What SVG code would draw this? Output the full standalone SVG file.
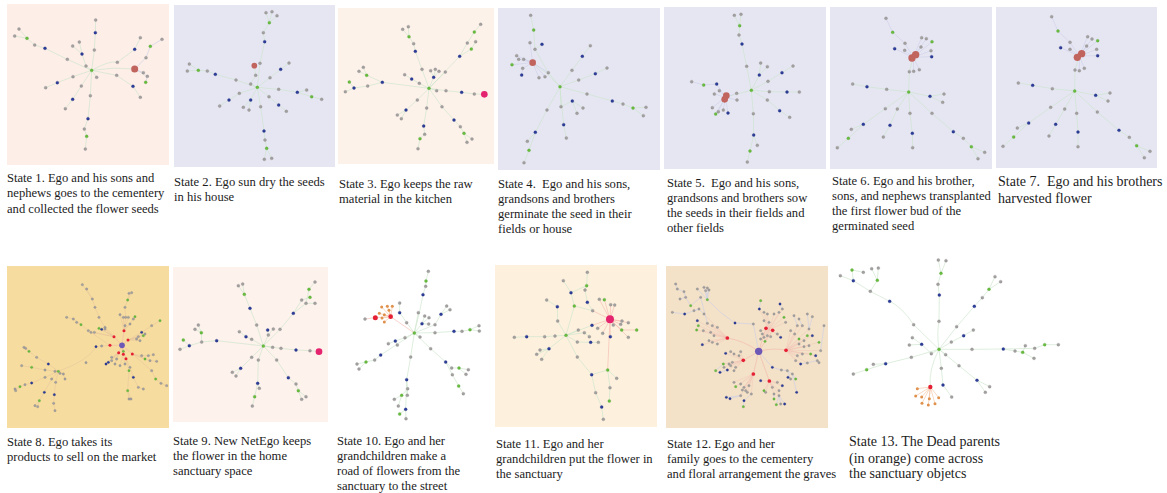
<svg xmlns="http://www.w3.org/2000/svg" width="1167" height="493" viewBox="0 0 1167 493">
<style>
.cap{font-family:"Liberation Serif","Times New Roman",serif;font-size:12.6px;fill:#1c1c1c;white-space:pre}
.cap14{font-family:"Liberation Serif","Times New Roman",serif;font-size:14px;fill:#1c1c1c;white-space:pre}
.e{fill:none;stroke:#cdd0e8;stroke-width:1.9;stroke-linejoin:round}
.eg{fill:none;stroke:#cbe4cb;stroke-width:1.9;stroke-linejoin:round}
.er{fill:none;stroke:#f2b2a8;stroke-width:1.7;stroke-linejoin:round}
.ef{fill:none;stroke:#f2bfb2;stroke-width:1.4;opacity:0.8}
.eo{fill:none;stroke:#f3c09a;stroke-width:1.8}
.g{fill:#a3a0a0;stroke:#858282;stroke-width:0.8}
.b{fill:#2c3d9a;stroke:#1d2a72;stroke-width:0.8}
.n{fill:#68bc3e;stroke:#4f9d30;stroke-width:0.8}
.R{fill:#c2645e}
.M{fill:#e4246e}
.r{fill:#e52034}
.o{fill:#e0914c}
.P{fill:#6e58b6}
</style>
<rect width="1167" height="493" fill="#ffffff"/>

<!-- Panel 1 -->
<g id="state1">
<rect x="7" y="4" width="162" height="161" fill="#fdeee8"/>
<g transform="scale(0.33333)">
<g class="eg">
<path d="M275 211 L283 150 L286 98 L287 60"/>
<path d="M275 211 L202 178 L135 145 L104 135 L81 115 L57 87 M81 115 L44 108"/>
<path d="M275 211 L258 198 L246 162 L238 126 M246 162 L218 138"/>
<path d="M275 211 Q330 180 352 187 L404 148 L421 113"/>
<path d="M275 211 Q340 200 404 207"/>
<path d="M275 211 L350 226 L399 259 L421 292"/>
<path d="M275 211 L219 230 L172 248 L137 263"/>
<path d="M275 211 L244 258 L218 298 L196 326"/>
<path d="M275 211 L290 232"/>
<path d="M275 211 L271 287 L264 356 L253 387 L260 409 L256 447"/>
</g>
<path class="e" d="M404 207 L438 173 L451 139 L486 118 M404 207 L442 229 L437 247 M404 207 L430 218"/>
<circle class="g" cx="287" cy="60" r="4.5"/><circle class="g" cx="283" cy="150" r="4.5"/><circle class="g" cx="202" cy="178" r="4.5"/><circle class="g" cx="104" cy="135" r="4.5"/><circle class="g" cx="57" cy="87" r="4.5"/><circle class="g" cx="44" cy="108" r="4.5"/><circle class="g" cx="258" cy="198" r="4.5"/><circle class="g" cx="238" cy="126" r="4.5"/><circle class="g" cx="218" cy="138" r="4.5"/><circle class="g" cx="352" cy="187" r="4.5"/><circle class="g" cx="421" cy="113" r="4.5"/><circle class="g" cx="486" cy="118" r="4.5"/><circle class="g" cx="438" cy="173" r="4.5"/><circle class="g" cx="442" cy="229" r="4.5"/><circle class="g" cx="430" cy="218" r="4.5"/><circle class="g" cx="350" cy="226" r="4.5"/><circle class="g" cx="421" cy="292" r="4.5"/><circle class="g" cx="219" cy="230" r="4.5"/><circle class="g" cx="137" cy="263" r="4.5"/><circle class="g" cx="244" cy="258" r="4.5"/><circle class="g" cx="196" cy="326" r="4.5"/><circle class="g" cx="290" cy="232" r="4.5"/><circle class="g" cx="271" cy="287" r="4.5"/><circle class="g" cx="253" cy="387" r="4.5"/><circle class="g" cx="256" cy="447" r="4.5"/>
<circle class="b" cx="286" cy="98" r="4.5"/><circle class="b" cx="135" cy="145" r="4.5"/><circle class="b" cx="246" cy="162" r="4.5"/><circle class="b" cx="404" cy="148" r="4.5"/><circle class="b" cx="399" cy="259" r="4.5"/><circle class="b" cx="172" cy="248" r="4.5"/><circle class="b" cx="218" cy="298" r="4.5"/><circle class="b" cx="264" cy="356" r="4.5"/>
<circle class="n" cx="275" cy="211" r="4.5"/><circle class="n" cx="81" cy="115" r="4.5"/><circle class="n" cx="451" cy="139" r="4.5"/><circle class="n" cx="437" cy="247" r="4.5"/><circle class="n" cx="260" cy="409" r="4.5"/>
<circle class="R" cx="404" cy="207" r="10.5"/>
</g>
<text class="cap" x="7" y="181.5">State 1. Ego and his sons and</text>
<text class="cap" x="7" y="197">nephews goes to the cementery</text>
<text class="cap" x="7" y="212.5">and collected the flower seeds</text>
</g>

<!-- Panel 2 -->
<g id="state2">
<rect x="174" y="5" width="161" height="162" fill="#e6e6f3"/>
<g transform="scale(0.33333)">
<g class="eg">
<path d="M772 262 L780 190 L794 125 L790 98 L808 68 L798 38 M808 68 L816 35 M808 68 L831 47"/>
<path d="M772 262 L752 252 L767 226 L763 197"/>
<path d="M772 262 L708 240 L646 223 L622 213 L595 211 L568 192 M595 211 L562 213"/>
<path d="M772 262 L810 233 L842 208 L867 189"/>
<path d="M772 262 L836 268 L892 277 L920 270 M892 277 L935 290 L965 298"/>
<path d="M772 262 L807 290 L836 315 L859 334"/>
<path d="M772 262 L752 300 L730 322 M752 300 L747 330"/>
<path d="M772 262 L718 280 L687 300 L659 318"/>
<path d="M772 262 L782 320 L792 393 L795 420 L800 445 L793 478 M800 445 L815 475"/>
</g>
<circle class="g" cx="780" cy="190" r="4.5"/><circle class="g" cx="790" cy="98" r="4.5"/><circle class="g" cx="798" cy="38" r="4.5"/><circle class="g" cx="816" cy="35" r="4.5"/><circle class="g" cx="831" cy="47" r="4.5"/><circle class="g" cx="767" cy="226" r="4.5"/><circle class="g" cx="752" cy="252" r="4.5"/><circle class="g" cx="708" cy="240" r="4.5"/><circle class="g" cx="622" cy="213" r="4.5"/><circle class="g" cx="568" cy="192" r="4.5"/><circle class="g" cx="562" cy="213" r="4.5"/><circle class="g" cx="810" cy="233" r="4.5"/><circle class="g" cx="867" cy="189" r="4.5"/><circle class="g" cx="836" cy="268" r="4.5"/><circle class="g" cx="920" cy="270" r="4.5"/><circle class="g" cx="965" cy="298" r="4.5"/><circle class="g" cx="807" cy="290" r="4.5"/><circle class="g" cx="859" cy="334" r="4.5"/><circle class="g" cx="730" cy="322" r="4.5"/><circle class="g" cx="747" cy="330" r="4.5"/><circle class="g" cx="718" cy="280" r="4.5"/><circle class="g" cx="659" cy="318" r="4.5"/><circle class="g" cx="782" cy="320" r="4.5"/><circle class="g" cx="795" cy="420" r="4.5"/><circle class="g" cx="793" cy="478" r="4.5"/><circle class="g" cx="815" cy="475" r="4.5"/>
<circle class="b" cx="794" cy="125" r="4.5"/><circle class="b" cx="646" cy="223" r="4.5"/><circle class="b" cx="842" cy="208" r="4.5"/><circle class="b" cx="892" cy="277" r="4.5"/><circle class="b" cx="836" cy="315" r="4.5"/><circle class="b" cx="752" cy="300" r="4.5"/><circle class="b" cx="687" cy="300" r="4.5"/><circle class="b" cx="792" cy="393" r="4.5"/>
<circle class="n" cx="772" cy="262" r="4.5"/><circle class="n" cx="808" cy="68" r="4.5"/><circle class="n" cx="595" cy="211" r="4.5"/><circle class="n" cx="935" cy="290" r="4.5"/><circle class="n" cx="800" cy="445" r="4.5"/>
<circle class="R" cx="763" cy="197" r="8.5"/>
</g>
<text class="cap" x="174" y="185.5">State 2. Ego sun dry the seeds</text>
<text class="cap" x="174" y="200.5">in his house</text>
</g>

<!-- Panel 3 -->
<g id="state3">
<rect x="338" y="8" width="156" height="156" fill="#fdf2ea"/>
<g transform="translate(330,0) scale(0.33333)">
<g class="eg">
<path d="M297 265 L276 208 L256 154 L251 131 L237 110 L218 88 M237 110 L235 80"/>
<path d="M297 265 L311 232 L302 212 M311 232 L316 208 M311 232 L327 214 M297 265 L346 216"/>
<path d="M297 265 L389 169 L412 129 L433 96 L452 73 M389 169 L424 147 L437 125"/>
<path d="M297 265 L268 250 L245 237 L224 224"/>
<path d="M297 265 L157 247 L113 258 L72 264 L46 275 M72 264 L58 246 M157 247 L110 226 L87 214 M110 226 L100 202"/>
<path d="M297 265 L348 272 L395 277 L433 282 L463 283"/>
<path d="M297 265 L320 272"/>
<path d="M297 265 L262 300 L228 330 L202 345 M228 330 L214 356"/>
<path d="M297 265 L290 324 L281 378 L284 403 L270 416 L264 446"/>
<path d="M297 265 L336 320 L372 360 L391 380 L402 400 L411 427 M402 400 L426 417"/>
</g>
<circle class="g" cx="276" cy="208" r="4.5"/><circle class="g" cx="251" cy="131" r="4.5"/><circle class="g" cx="218" cy="88" r="4.5"/><circle class="g" cx="235" cy="80" r="4.5"/><circle class="g" cx="302" cy="212" r="4.5"/><circle class="g" cx="316" cy="208" r="4.5"/><circle class="g" cx="327" cy="214" r="4.5"/><circle class="g" cx="346" cy="216" r="4.5"/><circle class="g" cx="412" cy="129" r="4.5"/><circle class="g" cx="452" cy="73" r="4.5"/><circle class="g" cx="437" cy="125" r="4.5"/><circle class="g" cx="268" cy="250" r="4.5"/><circle class="g" cx="224" cy="224" r="4.5"/><circle class="g" cx="113" cy="258" r="4.5"/><circle class="g" cx="46" cy="275" r="4.5"/><circle class="g" cx="87" cy="214" r="4.5"/><circle class="g" cx="100" cy="202" r="4.5"/><circle class="g" cx="348" cy="272" r="4.5"/><circle class="g" cx="433" cy="282" r="4.5"/><circle class="g" cx="320" cy="272" r="4.5"/><circle class="g" cx="262" cy="300" r="4.5"/><circle class="g" cx="202" cy="345" r="4.5"/><circle class="g" cx="214" cy="356" r="4.5"/><circle class="g" cx="290" cy="324" r="4.5"/><circle class="g" cx="284" cy="403" r="4.5"/><circle class="g" cx="264" cy="446" r="4.5"/><circle class="g" cx="336" cy="320" r="4.5"/><circle class="g" cx="391" cy="380" r="4.5"/><circle class="g" cx="411" cy="427" r="4.5"/><circle class="g" cx="426" cy="417" r="4.5"/>
<circle class="b" cx="256" cy="154" r="4.5"/><circle class="b" cx="311" cy="232" r="4.5"/><circle class="b" cx="389" cy="169" r="4.5"/><circle class="b" cx="245" cy="237" r="4.5"/><circle class="b" cx="157" cy="247" r="4.5"/><circle class="b" cx="72" cy="264" r="4.5"/><circle class="b" cx="395" cy="277" r="4.5"/><circle class="b" cx="228" cy="330" r="4.5"/><circle class="b" cx="281" cy="378" r="4.5"/><circle class="b" cx="372" cy="360" r="4.5"/>
<circle class="n" cx="297" cy="265" r="4.5"/><circle class="n" cx="237" cy="110" r="4.5"/><circle class="n" cx="433" cy="96" r="4.5"/><circle class="n" cx="424" cy="147" r="4.5"/><circle class="n" cx="58" cy="246" r="4.5"/><circle class="n" cx="110" cy="226" r="4.5"/><circle class="n" cx="270" cy="416" r="4.5"/><circle class="n" cx="402" cy="400" r="4.5"/>
<circle class="M" cx="463" cy="283" r="10"/>
</g>
<text class="cap" x="339" y="187.5">State 3. Ego keeps the raw</text>
<text class="cap" x="339" y="202.5">material in the kitchen</text>
</g>

<!-- Panel 4 -->
<g id="state4">
<rect x="498" y="8" width="162" height="162" fill="#e6e6f3"/>
<g transform="translate(330,0) scale(0.33333)">
<g class="eg">
<path d="M690 260 L655 218 L615 148 L611 90 L602 46 M615 148 L636 133"/>
<path d="M690 260 Q650 215 608 188"/>
<path d="M690 260 L726 211 L757 169 L781 137"/>
<path d="M690 260 L746 240 L796 221 L831 204"/>
<path d="M690 260 L771 282 L847 303 L879 312 L909 324 L948 322 M909 324 L940 347"/>
<path d="M690 260 L693 320 L727 303 L759 324 M727 303 L741 340"/>
<path d="M690 260 L651 330 L616 397 L592 424 M616 397 L597 451 L582 488"/>
<path d="M690 260 L701 374 L709 414"/>
</g>
<path class="e" d="M608 188 L560 167 M608 188 L566 178 M608 188 L581 178 M608 188 L546 194 M608 188 L578 205 L575 225 M608 188 L627 233 M608 188 L645 230 M608 188 L600 128 M608 188 L655 218"/>
<circle class="g" cx="655" cy="218" r="4.5"/><circle class="g" cx="615" cy="148" r="4.5"/><circle class="g" cx="602" cy="46" r="4.5"/><circle class="g" cx="600" cy="128" r="4.5"/><circle class="g" cx="560" cy="167" r="4.5"/><circle class="g" cx="566" cy="178" r="4.5"/><circle class="g" cx="581" cy="178" r="4.5"/><circle class="g" cx="578" cy="205" r="4.5"/><circle class="g" cx="627" cy="233" r="4.5"/><circle class="g" cx="645" cy="230" r="4.5"/><circle class="g" cx="726" cy="211" r="4.5"/><circle class="g" cx="781" cy="137" r="4.5"/><circle class="g" cx="746" cy="240" r="4.5"/><circle class="g" cx="831" cy="204" r="4.5"/><circle class="g" cx="771" cy="282" r="4.5"/><circle class="g" cx="879" cy="312" r="4.5"/><circle class="g" cx="948" cy="322" r="4.5"/><circle class="g" cx="940" cy="347" r="4.5"/><circle class="g" cx="693" cy="320" r="4.5"/><circle class="g" cx="759" cy="324" r="4.5"/><circle class="g" cx="741" cy="340" r="4.5"/><circle class="g" cx="651" cy="330" r="4.5"/><circle class="g" cx="592" cy="424" r="4.5"/><circle class="g" cx="582" cy="488" r="4.5"/><circle class="g" cx="709" cy="414" r="4.5"/>
<circle class="b" cx="636" cy="133" r="4.5"/><circle class="b" cx="575" cy="225" r="4.5"/><circle class="b" cx="757" cy="169" r="4.5"/><circle class="b" cx="796" cy="221" r="4.5"/><circle class="b" cx="847" cy="303" r="4.5"/><circle class="b" cx="727" cy="303" r="4.5"/><circle class="b" cx="616" cy="397" r="4.5"/><circle class="b" cx="701" cy="374" r="4.5"/>
<circle class="n" cx="690" cy="260" r="4.5"/><circle class="n" cx="611" cy="90" r="4.5"/><circle class="n" cx="546" cy="194" r="4.5"/><circle class="n" cx="909" cy="324" r="4.5"/><circle class="n" cx="597" cy="451" r="4.5"/>
<circle class="R" cx="608" cy="188" r="10"/>
</g>
<text class="cap" x="498" y="187.5">State 4.  Ego and his sons,</text>
<text class="cap" x="498" y="202.5">grandsons and brothers</text>
<text class="cap" x="498" y="217.5">germinate the seed in their</text>
<text class="cap" x="498" y="232.5">fields or house</text>
</g>

<!-- Panel 5 -->
<g id="state5">
<rect x="664" y="7" width="162" height="162" fill="#e6e6f3"/>
<g transform="translate(660,0) scale(0.33333)">
<g class="eg">
<path d="M274 271 L260 199 L246 132 L237 105 L239 77 L223 46 M239 77 L243 43"/>
<path d="M274 271 L298 225 L302 189 M298 225 L322 200"/>
<path d="M274 271 L324 244 L366 218 L399 198"/>
<path d="M274 271 L328 275 L381 276 L418 276"/>
<path d="M274 271 L322 300 L359 332 L389 352"/>
<path d="M274 271 Q230 282 196 292"/>
<path d="M274 271 L280 341 L281 405 L292 436 M281 405 L270 453 L262 486"/>
</g>
<path class="e" d="M196 292 L170 252 L131 255 L95 245 M196 292 L178 272 M196 292 L163 282 M196 292 L157 323 M196 292 L175 335 M196 292 L167 342 M196 292 L204 339 M196 292 L190 330 M196 292 L230 280 M196 292 L231 300"/>
<circle class="g" cx="260" cy="199" r="4.5"/><circle class="g" cx="237" cy="105" r="4.5"/><circle class="g" cx="223" cy="46" r="4.5"/><circle class="g" cx="243" cy="43" r="4.5"/><circle class="g" cx="302" cy="189" r="4.5"/><circle class="g" cx="322" cy="200" r="4.5"/><circle class="g" cx="324" cy="244" r="4.5"/><circle class="g" cx="399" cy="198" r="4.5"/><circle class="g" cx="328" cy="275" r="4.5"/><circle class="g" cx="418" cy="276" r="4.5"/><circle class="g" cx="322" cy="300" r="4.5"/><circle class="g" cx="389" cy="352" r="4.5"/><circle class="g" cx="95" cy="245" r="4.5"/><circle class="g" cx="178" cy="272" r="4.5"/><circle class="g" cx="163" cy="282" r="4.5"/><circle class="g" cx="157" cy="323" r="4.5"/><circle class="g" cx="175" cy="335" r="4.5"/><circle class="g" cx="190" cy="330" r="4.5"/><circle class="g" cx="230" cy="280" r="4.5"/><circle class="g" cx="231" cy="300" r="4.5"/><circle class="g" cx="280" cy="341" r="4.5"/><circle class="g" cx="292" cy="436" r="4.5"/><circle class="g" cx="262" cy="486" r="4.5"/>
<circle class="b" cx="246" cy="132" r="4.5"/><circle class="b" cx="298" cy="225" r="4.5"/><circle class="b" cx="366" cy="218" r="4.5"/><circle class="b" cx="381" cy="276" r="4.5"/><circle class="b" cx="359" cy="332" r="4.5"/><circle class="b" cx="170" cy="252" r="4.5"/><circle class="b" cx="204" cy="339" r="4.5"/><circle class="b" cx="281" cy="405" r="4.5"/>
<circle class="n" cx="274" cy="271" r="4.5"/><circle class="n" cx="239" cy="77" r="4.5"/><circle class="n" cx="131" cy="255" r="4.5"/><circle class="n" cx="167" cy="342" r="4.5"/><circle class="n" cx="270" cy="453" r="4.5"/>
<circle class="R" cx="194" cy="298" r="10"/><circle class="R" cx="199" cy="287" r="10"/>
</g>
<text class="cap" x="667" y="187">State 5.  Ego and his sons,</text>
<text class="cap" x="667" y="201.5">grandsons and brothers sow</text>
<text class="cap" x="667" y="216.5">the seeds in their fields and</text>
<text class="cap" x="667" y="231.5">other fields</text>
</g>

<!-- Panel 6 -->
<g id="state6">
<rect x="830" y="7" width="162" height="162" fill="#e6e6f3"/>
<g transform="translate(660,0) scale(0.33333)">
<g class="eg">
<path d="M746 276 L748 215 L760 172"/>
<path d="M746 276 L680 268 L621 260 L578 252"/>
<path d="M746 276 L810 289 L852 282 M810 289 L848 307"/>
<path d="M746 276 L676 326 L610 373 L574 388 M610 373 L565 415 L532 443"/>
<path d="M746 276 L712 327 L690 376 L670 411"/>
<path d="M746 276 L750 340 L757 400 L758 443"/>
<path d="M746 276 L816 340 L880 395 L910 415 L934 440 L954 476 M934 440 L974 457"/>
</g>
<path class="e" d="M760 172 L735 130 L698 97 L678 55 M760 172 L704 146 M760 172 L734 151 M760 172 L785 113 M760 172 L799 116 M760 172 L816 125 M760 172 L813 152 M760 172 L815 170 M760 172 L783 141 M760 172 L778 209 M760 172 L761 214"/>
<circle class="g" cx="748" cy="215" r="4.5"/><circle class="g" cx="735" cy="130" r="4.5"/><circle class="g" cx="678" cy="55" r="4.5"/><circle class="g" cx="734" cy="151" r="4.5"/><circle class="g" cx="785" cy="113" r="4.5"/><circle class="g" cx="799" cy="116" r="4.5"/><circle class="g" cx="813" cy="152" r="4.5"/><circle class="g" cx="783" cy="141" r="4.5"/><circle class="g" cx="778" cy="209" r="4.5"/><circle class="g" cx="761" cy="214" r="4.5"/><circle class="g" cx="680" cy="268" r="4.5"/><circle class="g" cx="578" cy="252" r="4.5"/><circle class="g" cx="852" cy="282" r="4.5"/><circle class="g" cx="848" cy="307" r="4.5"/><circle class="g" cx="676" cy="326" r="4.5"/><circle class="g" cx="574" cy="388" r="4.5"/><circle class="g" cx="532" cy="443" r="4.5"/><circle class="g" cx="712" cy="327" r="4.5"/><circle class="g" cx="670" cy="411" r="4.5"/><circle class="g" cx="750" cy="340" r="4.5"/><circle class="g" cx="758" cy="443" r="4.5"/><circle class="g" cx="816" cy="340" r="4.5"/><circle class="g" cx="910" cy="415" r="4.5"/><circle class="g" cx="954" cy="476" r="4.5"/><circle class="g" cx="974" cy="457" r="4.5"/>
<circle class="b" cx="704" cy="146" r="4.5"/><circle class="b" cx="815" cy="170" r="4.5"/><circle class="b" cx="621" cy="260" r="4.5"/><circle class="b" cx="810" cy="289" r="4.5"/><circle class="b" cx="610" cy="373" r="4.5"/><circle class="b" cx="690" cy="376" r="4.5"/><circle class="b" cx="757" cy="400" r="4.5"/><circle class="b" cx="880" cy="395" r="4.5"/>
<circle class="n" cx="746" cy="276" r="4.5"/><circle class="n" cx="698" cy="97" r="4.5"/><circle class="n" cx="816" cy="125" r="4.5"/><circle class="n" cx="565" cy="415" r="4.5"/><circle class="n" cx="934" cy="440" r="4.5"/>
<circle class="R" cx="767" cy="164" r="11"/><circle class="R" cx="756" cy="174" r="11"/>
</g>
<text class="cap" x="832" y="184.5">State 6. Ego and his brother,</text>
<text class="cap" x="832" y="199.5">sons, and nephews transplanted</text>
<text class="cap" x="832" y="214.5">the first flower bud of the</text>
<text class="cap" x="832" y="229.5">germinated seed</text>
</g>

<!-- Panel 7 -->
<g id="state7">
<rect x="996" y="7" width="161" height="161" fill="#e6e6f3"/>
<g transform="translate(660,0) scale(0.33333)">
<g class="eg">
<path d="M1244 273 L1245 210 L1258 168"/>
<path d="M1244 273 L1177 266 L1118 256 L1075 249"/>
<path d="M1244 273 L1307 286 L1350 279 M1307 286 L1344 303"/>
<path d="M1244 273 L1172 322 L1106 369 L1072 384 M1106 369 L1061 411 L1029 439"/>
<path d="M1244 273 L1214 327 L1187 373 L1167 408"/>
<path d="M1244 273 L1250 340 L1254 396 L1254 440"/>
<path d="M1244 273 L1312 336 L1377 391 L1408 412 L1430 437 L1453 473 M1430 437 L1470 454"/>
</g>
<path class="e" d="M1258 168 L1230 127 L1194 93 L1175 50 M1258 168 L1202 143 M1258 168 L1230 148 M1258 168 L1283 110 M1258 168 L1296 117 M1258 168 L1313 122 M1258 168 L1310 148 M1258 168 L1313 167 M1258 168 L1280 138 M1258 168 L1258 212 M1258 168 L1273 205"/>
<circle class="g" cx="1245" cy="210" r="4.5"/><circle class="g" cx="1230" cy="127" r="4.5"/><circle class="g" cx="1175" cy="50" r="4.5"/><circle class="g" cx="1230" cy="148" r="4.5"/><circle class="g" cx="1283" cy="110" r="4.5"/><circle class="g" cx="1296" cy="117" r="4.5"/><circle class="g" cx="1310" cy="148" r="4.5"/><circle class="g" cx="1280" cy="138" r="4.5"/><circle class="g" cx="1258" cy="212" r="4.5"/><circle class="g" cx="1273" cy="205" r="4.5"/><circle class="g" cx="1177" cy="266" r="4.5"/><circle class="g" cx="1075" cy="249" r="4.5"/><circle class="g" cx="1350" cy="279" r="4.5"/><circle class="g" cx="1344" cy="303" r="4.5"/><circle class="g" cx="1172" cy="322" r="4.5"/><circle class="g" cx="1072" cy="384" r="4.5"/><circle class="g" cx="1029" cy="439" r="4.5"/><circle class="g" cx="1214" cy="327" r="4.5"/><circle class="g" cx="1167" cy="408" r="4.5"/><circle class="g" cx="1250" cy="340" r="4.5"/><circle class="g" cx="1254" cy="440" r="4.5"/><circle class="g" cx="1312" cy="336" r="4.5"/><circle class="g" cx="1408" cy="412" r="4.5"/><circle class="g" cx="1453" cy="473" r="4.5"/><circle class="g" cx="1470" cy="454" r="4.5"/>
<circle class="b" cx="1202" cy="143" r="4.5"/><circle class="b" cx="1313" cy="167" r="4.5"/><circle class="b" cx="1118" cy="256" r="4.5"/><circle class="b" cx="1307" cy="286" r="4.5"/><circle class="b" cx="1106" cy="369" r="4.5"/><circle class="b" cx="1187" cy="373" r="4.5"/><circle class="b" cx="1254" cy="396" r="4.5"/><circle class="b" cx="1377" cy="391" r="4.5"/>
<circle class="n" cx="1244" cy="273" r="4.5"/><circle class="n" cx="1194" cy="93" r="4.5"/><circle class="n" cx="1313" cy="122" r="4.5"/><circle class="n" cx="1061" cy="411" r="4.5"/><circle class="n" cx="1430" cy="437" r="4.5"/>
<circle class="R" cx="1265" cy="161" r="11"/><circle class="R" cx="1252" cy="172" r="11"/>
</g>
<text class="cap14" x="998" y="186">State 7.  Ego and his brothers</text>
<text class="cap14" x="998" y="203">harvested flower</text>
</g>

<!-- Panel 8 -->
<g id="state8">
<rect x="7" y="266" width="162" height="162" fill="#f6dc9f"/>
<g transform="translate(5,264) scale(0.33333)">
<path class="er" d="M351 244 L327 218 M351 244 L357 200 M351 244 L369 228 M351 244 L315 244 M351 244 L341 266 M351 244 L355 271 M351 244 L363 284 M351 244 L382 270"/>
<g class="er" style="stroke:#e6c49c;stroke-width:1.6">
<path d="M357 200 L362 160 L360 130 L368 108 L372 88 M368 108 L380 86 M357 200 L345 152 M357 200 L355 160 M357 200 L370 160 M357 200 L385 165 L390 158 M357 200 L375 180 M357 200 L360 185"/>
<path d="M327 218 L300 190 L282 160 L270 130 L262 105 L245 75 M262 105 L232 62 M327 218 L300 195 M327 218 L290 196 M327 218 L282 193 M327 218 L268 205 M327 218 L258 205"/>
<path d="M315 244 L290 246 L273 248 Q250 290 160 322 M315 244 L250 200 L228 182 L205 165 L185 160 M228 182 L215 175"/>
<path d="M369 228 L410 205 L440 185 L465 170 M369 228 L415 215 M369 228 L400 218 M369 228 L395 225 M369 228 L405 230 M369 228 L420 210"/>
<path d="M382 270 L410 275 L430 275 L445 272 M382 270 L420 285 M382 270 L435 290 L455 292 M382 270 L440 320 L452 345 L468 358 L485 365"/>
<path d="M363 284 L375 310 L385 340 L400 370 L415 375 M363 284 L372 320 L368 380 L372 405 M368 380 L378 405"/>
<path d="M341 266 L320 280 M341 266 L310 295 M341 266 L303 300 M341 266 L330 300 M341 266 L320 290 M341 266 L335 285 M355 271 L360 300 M355 271 L345 305 M355 271 L355 262"/>
<path d="M160 322 L130 300 L95 280 L72 262 L57 250 M72 262 L62 253 M160 322 L120 318 L80 310 L50 305 M160 322 L120 340 L80 357 L60 362 L45 368 L30 375 M45 368 L32 380 M160 322 L140 345 L118 385 L103 410 L90 425 M103 410 L98 428 M160 322 L152 355 L148 392 L146 418 L150 440 M160 322 L175 330 L180 345 M160 322 L150 322 M160 322 L165 328"/>
</g>
<g>
<circle class="g" cx="362" cy="160" r="3.6"/><circle class="g" cx="360" cy="130" r="3.6"/><circle class="g" cx="372" cy="88" r="3.6"/><circle class="g" cx="380" cy="86" r="3.6"/><circle class="g" cx="345" cy="152" r="3.6"/><circle class="g" cx="355" cy="160" r="3.6"/><circle class="g" cx="370" cy="160" r="3.6"/><circle class="g" cx="385" cy="165" r="3.6"/><circle class="g" cx="375" cy="180" r="3.6"/><circle class="g" cx="360" cy="185" r="3.6"/><circle class="g" cx="300" cy="190" r="3.6"/><circle class="g" cx="282" cy="160" r="3.6"/><circle class="g" cx="270" cy="130" r="3.6"/><circle class="g" cx="262" cy="105" r="3.6"/><circle class="g" cx="245" cy="75" r="3.6"/><circle class="g" cx="232" cy="62" r="3.6"/><circle class="g" cx="300" cy="195" r="3.6"/><circle class="g" cx="268" cy="205" r="3.6"/><circle class="g" cx="258" cy="205" r="3.6"/><circle class="g" cx="290" cy="246" r="3.6"/><circle class="g" cx="243" cy="296" r="3.6"/><circle class="g" cx="250" cy="200" r="3.6"/><circle class="g" cx="205" cy="165" r="3.6"/><circle class="g" cx="185" cy="160" r="3.6"/><circle class="g" cx="215" cy="175" r="3.6"/><circle class="g" cx="440" cy="185" r="3.6"/><circle class="g" cx="400" cy="218" r="3.6"/><circle class="g" cx="395" cy="225" r="3.6"/><circle class="g" cx="405" cy="230" r="3.6"/><circle class="g" cx="420" cy="210" r="3.6"/><circle class="g" cx="410" cy="275" r="3.6"/><circle class="g" cx="430" cy="275" r="3.6"/><circle class="g" cx="445" cy="272" r="3.6"/><circle class="g" cx="435" cy="290" r="3.6"/><circle class="g" cx="455" cy="292" r="3.6"/><circle class="g" cx="375" cy="310" r="3.6"/><circle class="g" cx="400" cy="370" r="3.6"/><circle class="g" cx="415" cy="375" r="3.6"/><circle class="g" cx="372" cy="405" r="3.6"/><circle class="g" cx="378" cy="405" r="3.6"/><circle class="g" cx="440" cy="320" r="3.6"/><circle class="g" cx="468" cy="358" r="3.6"/><circle class="g" cx="485" cy="365" r="3.6"/><circle class="g" cx="320" cy="280" r="3.6"/><circle class="g" cx="330" cy="300" r="3.6"/><circle class="g" cx="320" cy="290" r="3.6"/><circle class="g" cx="335" cy="285" r="3.6"/><circle class="g" cx="360" cy="300" r="3.6"/><circle class="g" cx="345" cy="305" r="3.6"/><circle class="g" cx="95" cy="280" r="3.6"/><circle class="g" cx="57" cy="250" r="3.6"/><circle class="g" cx="62" cy="253" r="3.6"/><circle class="g" cx="120" cy="318" r="3.6"/><circle class="g" cx="50" cy="305" r="3.6"/><circle class="g" cx="120" cy="340" r="3.6"/><circle class="g" cx="60" cy="362" r="3.6"/><circle class="g" cx="30" cy="375" r="3.6"/><circle class="g" cx="32" cy="380" r="3.6"/><circle class="g" cx="140" cy="345" r="3.6"/><circle class="g" cx="90" cy="425" r="3.6"/><circle class="g" cx="98" cy="428" r="3.6"/><circle class="g" cx="152" cy="355" r="3.6"/><circle class="g" cx="146" cy="418" r="3.6"/><circle class="g" cx="150" cy="440" r="3.6"/><circle class="g" cx="175" cy="330" r="3.6"/><circle class="g" cx="180" cy="345" r="3.6"/><circle class="g" cx="150" cy="322" r="3.6"/><circle class="g" cx="165" cy="328" r="3.6"/>
<circle class="b" cx="290" cy="196" r="3.6"/><circle class="b" cx="273" cy="248" r="3.6"/><circle class="b" cx="410" cy="205" r="3.6"/><circle class="b" cx="385" cy="340" r="3.6"/><circle class="b" cx="310" cy="295" r="3.6"/><circle class="b" cx="303" cy="300" r="3.6"/><circle class="b" cx="130" cy="300" r="3.6"/><circle class="b" cx="80" cy="357" r="3.6"/><circle class="b" cx="118" cy="385" r="3.6"/><circle class="b" cx="148" cy="392" r="3.6"/>
<circle class="n" cx="368" cy="108" r="3.6"/><circle class="n" cx="390" cy="158" r="3.6"/><circle class="n" cx="282" cy="193" r="3.6"/><circle class="n" cx="228" cy="182" r="3.6"/><circle class="n" cx="465" cy="170" r="3.6"/><circle class="n" cx="415" cy="215" r="3.6"/><circle class="n" cx="420" cy="285" r="3.6"/><circle class="n" cx="372" cy="320" r="3.6"/><circle class="n" cx="368" cy="380" r="3.6"/><circle class="n" cx="452" cy="345" r="3.6"/><circle class="n" cx="72" cy="262" r="3.6"/><circle class="n" cx="80" cy="310" r="3.6"/><circle class="n" cx="45" cy="368" r="3.6"/><circle class="n" cx="103" cy="410" r="3.6"/><circle class="n" cx="160" cy="322" r="3.6"/><circle class="n" cx="355" cy="262" r="3.6"/>
<circle class="r" cx="327" cy="218" r="4.5"/><circle class="r" cx="357" cy="200" r="4.5"/><circle class="r" cx="369" cy="228" r="4.5"/><circle class="r" cx="315" cy="244" r="4.5"/><circle class="r" cx="341" cy="266" r="4.5"/><circle class="r" cx="355" cy="271" r="4.5"/><circle class="r" cx="363" cy="284" r="4.5"/><circle class="r" cx="382" cy="270" r="4.5"/>
<circle class="P" cx="351" cy="244" r="8.5"/>
</g>
</g>
<text class="cap" x="7" y="445.5">State 8. Ego takes its</text>
<text class="cap" x="7" y="460.5">products to sell on the market</text>
</g>

<!-- Panel 9 -->
<g id="state9">
<rect x="173" y="267" width="155" height="155" fill="#fdf2ec"/>
<g transform="translate(0,260) scale(0.33333)">
<g class="eg">
<path d="M790 258 L770 195 L750 145 L733 103 L715 77 M733 103 L728 72"/>
<path d="M790 258 L805 225 L803 210 M805 225 L820 207"/>
<path d="M790 258 L840 208 L880 160 L918 130 L927 88 L945 66 M918 130 L945 130 M880 160 L905 120 L930 112"/>
<path d="M790 258 L755 238 L738 230 L718 215"/>
<path d="M790 258 L650 242 L605 246 L568 257 L540 268 M605 246 L604 218 L585 208 M604 218 L595 195 M568 257 L550 240"/>
<path d="M790 258 L843 265 L888 270 L930 272 L957 275"/>
<path d="M790 258 L818 262"/>
<path d="M790 258 L755 292 L722 325 L697 337 M722 325 L708 348"/>
<path d="M790 258 L775 300 L773 370 L778 385 M773 370 L764 410 L757 438"/>
<path d="M790 258 L830 300 L865 353 L888 372 L895 392 L905 418 M895 392 L918 410"/>
</g>
<circle class="g" cx="770" cy="195" r="4.5"/><circle class="g" cx="715" cy="77" r="4.5"/><circle class="g" cx="728" cy="72" r="4.5"/><circle class="g" cx="805" cy="225" r="4.5"/><circle class="g" cx="820" cy="207" r="4.5"/><circle class="g" cx="840" cy="208" r="4.5"/><circle class="g" cx="905" cy="120" r="4.5"/><circle class="g" cx="945" cy="66" r="4.5"/><circle class="g" cx="945" cy="130" r="4.5"/><circle class="g" cx="918" cy="130" r="4.5"/><circle class="g" cx="755" cy="238" r="4.5"/><circle class="g" cx="718" cy="215" r="4.5"/><circle class="g" cx="605" cy="246" r="4.5"/><circle class="g" cx="540" cy="268" r="4.5"/><circle class="g" cx="585" cy="208" r="4.5"/><circle class="g" cx="595" cy="195" r="4.5"/><circle class="g" cx="843" cy="265" r="4.5"/><circle class="g" cx="930" cy="272" r="4.5"/><circle class="g" cx="818" cy="262" r="4.5"/><circle class="g" cx="755" cy="292" r="4.5"/><circle class="g" cx="697" cy="337" r="4.5"/><circle class="g" cx="708" cy="348" r="4.5"/><circle class="g" cx="775" cy="300" r="4.5"/><circle class="g" cx="778" cy="385" r="4.5"/><circle class="g" cx="757" cy="438" r="4.5"/><circle class="g" cx="830" cy="300" r="4.5"/><circle class="g" cx="888" cy="372" r="4.5"/><circle class="g" cx="905" cy="418" r="4.5"/><circle class="g" cx="918" cy="410" r="4.5"/>
<circle class="b" cx="750" cy="145" r="4.5"/><circle class="b" cx="803" cy="210" r="4.5"/><circle class="b" cx="880" cy="160" r="4.5"/><circle class="b" cx="738" cy="230" r="4.5"/><circle class="b" cx="650" cy="242" r="4.5"/><circle class="b" cx="568" cy="257" r="4.5"/><circle class="b" cx="888" cy="270" r="4.5"/><circle class="b" cx="722" cy="325" r="4.5"/><circle class="b" cx="773" cy="370" r="4.5"/><circle class="b" cx="865" cy="353" r="4.5"/>
<circle class="n" cx="790" cy="258" r="4.5"/><circle class="n" cx="733" cy="103" r="4.5"/><circle class="n" cx="927" cy="88" r="4.5"/><circle class="n" cx="930" cy="112" r="4.5"/><circle class="n" cx="604" cy="218" r="4.5"/><circle class="n" cx="550" cy="240" r="4.5"/><circle class="n" cx="764" cy="410" r="4.5"/><circle class="n" cx="895" cy="392" r="4.5"/>
<circle class="M" cx="957" cy="275" r="10"/>
</g>
<text class="cap" x="173" y="444.5">State 9. New NetEgo keeps</text>
<text class="cap" x="173" y="459.5">the flower in the home</text>
<text class="cap" x="173" y="474.5">sanctuary space</text>
</g>

<!-- Panel 10 -->
<g id="state10">
<g transform="translate(335,262) scale(0.33333)">
<g class="eg">
<path d="M238 213 L215 182 L194 152 L194 123"/>
<path d="M238 213 L250 152 M238 213 L261 185 L269 162 M261 185 L282 167 M261 185 L281 186"/>
<path d="M238 213 L300 188 L318 157 L335 132 M318 157 L345 143"/>
<path d="M238 213 Q255 150 264 98 L272 73 L273 57 L280 28"/>
<path d="M238 213 L300 212 L357 208 L381 208 L405 203 L432 191 M405 203 L433 207"/>
<path d="M238 213 L255 225"/>
<path d="M238 213 L210 227 L181 237 L160 245 M181 237 L187 249"/>
<path d="M238 213 L137 279 L119 294 L93 300 L66 306 M93 300 L72 321"/>
<path d="M238 213 L287 260 L332 300 L350 318 L372 318 L400 323 M372 318 L393 337 M332 300 L352 338 L371 372 L385 395"/>
<path d="M238 213 L227 285 L215 353 L218 380 L200 400 L178 412 M200 400 L190 432 M218 380 L217 400 M215 353 L212 442 L194 456 M212 442 L213 470"/>
</g>
<path class="er" d="M238 213 L167 164 L121 167 L90 171"/>
<path class="eo" d="M167 164 L140 135 M167 164 L157 133 M167 164 L172 133 M167 164 L148 158 M167 164 L162 145 M167 164 L133 154 M167 164 L141 168 M167 164 L148 180"/>
<circle class="g" cx="280" cy="28" r="4.5"/><circle class="g" cx="272" cy="73" r="4.5"/><circle class="g" cx="194" cy="123" r="4.5"/><circle class="g" cx="215" cy="182" r="4.5"/><circle class="g" cx="90" cy="171" r="4.5"/><circle class="g" cx="250" cy="152" r="4.5"/><circle class="g" cx="269" cy="162" r="4.5"/><circle class="g" cx="282" cy="167" r="4.5"/><circle class="g" cx="281" cy="186" r="4.5"/><circle class="g" cx="300" cy="212" r="4.5"/><circle class="g" cx="381" cy="208" r="4.5"/><circle class="g" cx="432" cy="191" r="4.5"/><circle class="g" cx="433" cy="207" r="4.5"/><circle class="g" cx="335" cy="132" r="4.5"/><circle class="g" cx="345" cy="143" r="4.5"/><circle class="g" cx="300" cy="188" r="4.5"/><circle class="g" cx="255" cy="225" r="4.5"/><circle class="g" cx="210" cy="227" r="4.5"/><circle class="g" cx="160" cy="245" r="4.5"/><circle class="g" cx="187" cy="249" r="4.5"/><circle class="g" cx="119" cy="294" r="4.5"/><circle class="g" cx="66" cy="306" r="4.5"/><circle class="g" cx="72" cy="321" r="4.5"/><circle class="g" cx="287" cy="260" r="4.5"/><circle class="g" cx="350" cy="318" r="4.5"/><circle class="g" cx="400" cy="323" r="4.5"/><circle class="g" cx="393" cy="337" r="4.5"/><circle class="g" cx="352" cy="338" r="4.5"/><circle class="g" cx="385" cy="395" r="4.5"/><circle class="g" cx="227" cy="285" r="4.5"/><circle class="g" cx="218" cy="380" r="4.5"/><circle class="g" cx="178" cy="412" r="4.5"/><circle class="g" cx="217" cy="400" r="4.5"/><circle class="g" cx="190" cy="432" r="4.5"/><circle class="g" cx="213" cy="470" r="4.5"/>
<circle class="b" cx="264" cy="98" r="4.5"/><circle class="b" cx="194" cy="152" r="4.5"/><circle class="b" cx="261" cy="185" r="4.5"/><circle class="b" cx="357" cy="208" r="4.5"/><circle class="b" cx="318" cy="157" r="4.5"/><circle class="b" cx="181" cy="237" r="4.5"/><circle class="b" cx="137" cy="279" r="4.5"/><circle class="b" cx="332" cy="300" r="4.5"/><circle class="b" cx="215" cy="353" r="4.5"/><circle class="b" cx="212" cy="442" r="4.5"/>
<circle class="n" cx="238" cy="213" r="4.5"/><circle class="n" cx="273" cy="57" r="4.5"/><circle class="n" cx="405" cy="203" r="4.5"/><circle class="n" cx="93" cy="300" r="4.5"/><circle class="n" cx="372" cy="318" r="4.5"/><circle class="n" cx="371" cy="372" r="4.5"/><circle class="n" cx="200" cy="400" r="4.5"/><circle class="n" cx="194" cy="456" r="4.5"/>
<circle class="o" cx="140" cy="135" r="4.5"/><circle class="o" cx="157" cy="133" r="4.5"/><circle class="o" cx="172" cy="133" r="4.5"/><circle class="o" cx="148" cy="158" r="4.5"/><circle class="o" cx="162" cy="145" r="4.5"/><circle class="o" cx="133" cy="154" r="4.5"/><circle class="o" cx="141" cy="168" r="4.5"/><circle class="o" cx="148" cy="180" r="4.5"/>
<circle class="r" cx="121" cy="167" r="7.5"/><circle class="r" cx="167" cy="164" r="7"/>
</g>
<text class="cap" x="337" y="444.5">State 10. Ego and her</text>
<text class="cap" x="337" y="459.5">grandchildren make a</text>
<text class="cap" x="337" y="474.5">road of flowers from the</text>
<text class="cap" x="337" y="489.5">sanctuary to the street</text>
</g>

<!-- Panel 11 -->
<g id="state11">
<rect x="495" y="265" width="162" height="162" fill="#fdf1de"/>
<g transform="translate(330,260) scale(0.33333)">
<g class="eg">
<path d="M708 226 L683 183 L682 140 L650 120"/>
<path d="M708 226 L733 138 L723 98 L700 62 M723 98 L770 77 L772 37 M770 77 L765 90 L772 127 L788 152"/>
<path d="M708 226 L786 196 M708 226 L745 210 M708 226 L763 218 L778 230"/>
<path d="M708 226 L675 228 L644 230 L590 230 L553 232"/>
<path d="M708 226 L657 266 L630 270 M657 266 L620 283 M657 266 L635 298"/>
<path d="M708 226 L742 246 L782 247 L805 247"/>
<path d="M708 226 L742 291 L785 344 L797 398 L815 441 L820 478 M785 344 L833 330 L860 355 M833 330 L840 383 L838 423"/>
<path d="M733 138 L788 152"/>
</g>
<path class="er" d="M840 178 L808 118 M840 178 L823 119 M840 178 L842 134 M840 178 L854 135 M840 178 L876 183 M840 178 L895 188 M840 178 L872 193 M840 178 L875 210 L920 210 M840 178 L895 232 M840 178 L850 195 M840 178 L818 220 M840 178 L841 230 M840 178 L803 205 M840 178 L786 196 M840 178 L788 152 M840 178 L833 330"/>
<circle class="g" cx="772" cy="37" r="4.5"/><circle class="g" cx="700" cy="62" r="4.5"/><circle class="g" cx="765" cy="90" r="4.5"/><circle class="g" cx="788" cy="152" r="4.5"/><circle class="g" cx="808" cy="118" r="4.5"/><circle class="g" cx="842" cy="134" r="4.5"/><circle class="g" cx="854" cy="135" r="4.5"/><circle class="g" cx="650" cy="120" r="4.5"/><circle class="g" cx="683" cy="183" r="4.5"/><circle class="g" cx="803" cy="205" r="4.5"/><circle class="g" cx="745" cy="210" r="4.5"/><circle class="g" cx="763" cy="218" r="4.5"/><circle class="g" cx="778" cy="230" r="4.5"/><circle class="g" cx="818" cy="220" r="4.5"/><circle class="g" cx="876" cy="183" r="4.5"/><circle class="g" cx="895" cy="188" r="4.5"/><circle class="g" cx="872" cy="193" r="4.5"/><circle class="g" cx="895" cy="232" r="4.5"/><circle class="g" cx="850" cy="195" r="4.5"/><circle class="g" cx="675" cy="228" r="4.5"/><circle class="g" cx="644" cy="230" r="4.5"/><circle class="g" cx="553" cy="232" r="4.5"/><circle class="g" cx="630" cy="270" r="4.5"/><circle class="g" cx="620" cy="283" r="4.5"/><circle class="g" cx="635" cy="298" r="4.5"/><circle class="g" cx="742" cy="246" r="4.5"/><circle class="g" cx="805" cy="247" r="4.5"/><circle class="g" cx="742" cy="291" r="4.5"/><circle class="g" cx="860" cy="355" r="4.5"/><circle class="g" cx="797" cy="398" r="4.5"/><circle class="g" cx="840" cy="383" r="4.5"/><circle class="g" cx="820" cy="478" r="4.5"/>
<circle class="b" cx="723" cy="98" r="4.5"/><circle class="b" cx="772" cy="127" r="4.5"/><circle class="b" cx="682" cy="140" r="4.5"/><circle class="b" cx="786" cy="196" r="4.5"/><circle class="b" cx="841" cy="230" r="4.5"/><circle class="b" cx="590" cy="230" r="4.5"/><circle class="b" cx="657" cy="266" r="4.5"/><circle class="b" cx="782" cy="247" r="4.5"/><circle class="b" cx="785" cy="344" r="4.5"/><circle class="b" cx="815" cy="441" r="4.5"/>
<circle class="n" cx="708" cy="226" r="4.5"/><circle class="n" cx="770" cy="77" r="4.5"/><circle class="n" cx="733" cy="138" r="4.5"/><circle class="n" cx="823" cy="119" r="4.5"/><circle class="n" cx="875" cy="210" r="4.5"/><circle class="n" cx="920" cy="210" r="4.5"/><circle class="n" cx="833" cy="330" r="4.5"/><circle class="n" cx="838" cy="423" r="4.5"/>
<circle class="M" cx="840" cy="178" r="12"/>
</g>
<text class="cap" x="496" y="447.5">State 11. Ego and her</text>
<text class="cap" x="496" y="462.5">grandchildren put the flower in</text>
<text class="cap" x="496" y="477.5">the sanctuary</text>
</g>

<!-- Panel 12 -->
<g id="state12">
<rect x="666" y="266" width="162" height="162" fill="#f3e1c8"/>
<g transform="translate(664,264) scale(0.33333)">
<path class="er" d="M284 262 L306 193 M284 262 L326 199 M284 262 Q240 230 190 222 M284 262 L238 289 M284 262 L268 330 M284 262 L316 351 M284 262 Q330 250 366 259"/>
<path class="ef" d="M190 222 L130 178 M190 222 L145 185 M190 222 L160 190 M190 222 L118 200 M190 222 L140 205 M190 222 L150 215 M190 222 L135 230 M190 222 L160 240 M190 222 L115 242 M190 222 L145 235 M190 222 L103 185 M190 222 L98 198 M190 222 L100 170 M190 222 L120 150"/>
<path class="ef" d="M316 196 L300 145 M316 196 L310 150 M316 196 L330 150 M316 196 L345 145 M316 196 L355 135 M316 196 L360 160 M316 196 L365 175 M316 196 L300 170 M316 196 L315 175 M316 196 L290 200 M316 196 L295 210 M316 196 L300 220 M316 196 L310 215 M316 196 L320 218 M316 196 L303 232 M316 196 L290 225 M316 196 L340 210 M316 196 L350 220 M316 196 L286 135"/>
<path class="ef" d="M366 259 L400 185 M366 259 L415 185 M366 259 L435 195 M366 259 L430 215 M366 259 L445 215 M366 259 L380 200 M366 259 L392 210 M366 259 L405 225 M366 259 L405 240 M366 259 L420 248 M366 259 L435 245 M366 259 L440 270 M366 259 L455 275 M366 259 L465 235 M366 259 L470 260 M366 259 L415 270 M366 259 L400 275 M366 259 L395 290 M366 259 L410 300 M366 259 L430 297 M366 259 L420 230"/>
<path class="ef" d="M238 289 L185 268 M238 289 L200 263 M238 289 L210 270 M238 289 L225 275 M238 289 L205 295 M238 289 L195 300 M238 289 L178 300 M238 289 L180 310 M238 289 L190 318 M238 289 L200 305 M238 289 L215 310 M238 289 L210 320 M238 289 L230 263"/>
<path class="ef" d="M268 330 L210 355 M268 330 L215 368 M268 330 L230 360 M268 330 L240 370 M268 330 L235 378 M268 330 L245 380 M268 330 L255 365 M268 330 L250 385 M268 330 L262 390 M268 330 L230 395 M316 351 L305 385 M316 351 L300 380 M316 351 L290 350 M316 351 L325 370 M316 351 L330 390 M316 351 L345 395 M316 351 L345 380 M316 351 L355 365 M316 351 L340 355"/>
<g class="e">
<path d="M120 150 L105 135 L62 150 L25 145 M105 135 L90 140 M130 178 L110 100 L80 125 L65 100 L48 105 M65 100 L60 83 L40 75 L35 60 M130 107 L120 70 M130 107 L130 72 M130 107 L125 80 M130 107 L135 78 M130 107 L100 75 M130 107 Q170 150 213 177 L268 180 L284 262"/>
<path d="M286 135 L290 110 M355 135 L348 120 M400 185 L390 155 M415 185 L405 165 M435 195 L430 150 M435 195 L445 158 M470 260 L480 185 M460 290 L465 296 M410 300 L460 290"/>
<path d="M155 320 L178 300 M168 325 L190 318 M230 395 L187 400 M230 395 L198 404 M262 390 L240 410 L238 428 M330 390 L330 405 M345 395 L350 420 M345 395 L337 422 M345 395 L362 420 M284 262 L325 310 L352 318 L370 320 L385 330 L398 385 M370 320 L380 345 L372 340 M385 330 L395 345 L400 345"/>
</g>
<g>
<circle class="g" cx="130" cy="178" r="3.6"/><circle class="g" cx="145" cy="185" r="3.6"/><circle class="g" cx="160" cy="190" r="3.6"/><circle class="g" cx="118" cy="200" r="3.6"/><circle class="g" cx="140" cy="205" r="3.6"/><circle class="g" cx="150" cy="215" r="3.6"/><circle class="g" cx="135" cy="230" r="3.6"/><circle class="g" cx="160" cy="240" r="3.6"/><circle class="g" cx="145" cy="235" r="3.6"/><circle class="g" cx="120" cy="150" r="3.6"/><circle class="g" cx="105" cy="135" r="3.6"/><circle class="g" cx="25" cy="145" r="3.6"/><circle class="g" cx="90" cy="140" r="3.6"/><circle class="g" cx="110" cy="100" r="3.6"/><circle class="g" cx="65" cy="100" r="3.6"/><circle class="g" cx="48" cy="105" r="3.6"/><circle class="g" cx="60" cy="83" r="3.6"/><circle class="g" cx="40" cy="75" r="3.6"/><circle class="g" cx="35" cy="60" r="3.6"/><circle class="g" cx="120" cy="70" r="3.6"/><circle class="g" cx="130" cy="72" r="3.6"/><circle class="g" cx="125" cy="80" r="3.6"/><circle class="g" cx="135" cy="78" r="3.6"/><circle class="g" cx="100" cy="75" r="3.6"/><circle class="g" cx="268" cy="180" r="3.6"/>
<circle class="g" cx="300" cy="145" r="3.6"/><circle class="g" cx="310" cy="150" r="3.6"/><circle class="g" cx="330" cy="150" r="3.6"/><circle class="g" cx="345" cy="145" r="3.6"/><circle class="g" cx="355" cy="135" r="3.6"/><circle class="g" cx="365" cy="175" r="3.6"/><circle class="g" cx="300" cy="170" r="3.6"/><circle class="g" cx="315" cy="175" r="3.6"/><circle class="g" cx="290" cy="200" r="3.6"/><circle class="g" cx="295" cy="210" r="3.6"/><circle class="g" cx="300" cy="220" r="3.6"/><circle class="g" cx="310" cy="215" r="3.6"/><circle class="g" cx="320" cy="218" r="3.6"/><circle class="g" cx="290" cy="225" r="3.6"/><circle class="g" cx="340" cy="210" r="3.6"/>
<circle class="g" cx="390" cy="155" r="3.6"/><circle class="g" cx="405" cy="165" r="3.6"/><circle class="g" cx="430" cy="150" r="3.6"/><circle class="g" cx="445" cy="158" r="3.6"/><circle class="g" cx="400" cy="185" r="3.6"/><circle class="g" cx="415" cy="185" r="3.6"/><circle class="g" cx="435" cy="195" r="3.6"/><circle class="g" cx="380" cy="200" r="3.6"/><circle class="g" cx="392" cy="210" r="3.6"/><circle class="g" cx="405" cy="240" r="3.6"/><circle class="g" cx="420" cy="248" r="3.6"/><circle class="g" cx="435" cy="245" r="3.6"/><circle class="g" cx="470" cy="260" r="3.6"/><circle class="g" cx="460" cy="290" r="3.6"/><circle class="g" cx="415" cy="270" r="3.6"/><circle class="g" cx="400" cy="275" r="3.6"/><circle class="g" cx="395" cy="290" r="3.6"/><circle class="g" cx="430" cy="297" r="3.6"/><circle class="g" cx="465" cy="296" r="3.6"/><circle class="g" cx="480" cy="185" r="3.6"/><circle class="g" cx="420" cy="230" r="3.6"/>
<circle class="g" cx="200" cy="263" r="3.6"/><circle class="g" cx="210" cy="270" r="3.6"/><circle class="g" cx="225" cy="275" r="3.6"/><circle class="g" cx="205" cy="295" r="3.6"/><circle class="g" cx="195" cy="300" r="3.6"/><circle class="g" cx="180" cy="310" r="3.6"/><circle class="g" cx="200" cy="305" r="3.6"/><circle class="g" cx="215" cy="310" r="3.6"/><circle class="g" cx="210" cy="320" r="3.6"/><circle class="g" cx="230" cy="263" r="3.6"/>
<circle class="g" cx="210" cy="355" r="3.6"/><circle class="g" cx="230" cy="360" r="3.6"/><circle class="g" cx="240" cy="370" r="3.6"/><circle class="g" cx="235" cy="378" r="3.6"/><circle class="g" cx="245" cy="380" r="3.6"/><circle class="g" cx="255" cy="365" r="3.6"/><circle class="g" cx="250" cy="385" r="3.6"/><circle class="g" cx="262" cy="390" r="3.6"/><circle class="g" cx="230" cy="395" r="3.6"/><circle class="g" cx="305" cy="385" r="3.6"/><circle class="g" cx="325" cy="370" r="3.6"/><circle class="g" cx="330" cy="390" r="3.6"/><circle class="g" cx="345" cy="395" r="3.6"/><circle class="g" cx="350" cy="420" r="3.6"/><circle class="g" cx="345" cy="380" r="3.6"/><circle class="g" cx="340" cy="355" r="3.6"/><circle class="g" cx="352" cy="318" r="3.6"/><circle class="g" cx="370" cy="320" r="3.6"/><circle class="g" cx="385" cy="330" r="3.6"/><circle class="g" cx="380" cy="345" r="3.6"/>
<circle class="b" cx="115" cy="242" r="3.6"/><circle class="b" cx="100" cy="170" r="3.6"/><circle class="b" cx="62" cy="150" r="3.6"/><circle class="b" cx="213" cy="177" r="3.6"/><circle class="b" cx="350" cy="220" r="3.6"/><circle class="b" cx="286" cy="135" r="3.6"/><circle class="b" cx="348" cy="120" r="3.6"/><circle class="b" cx="445" cy="215" r="3.6"/><circle class="b" cx="455" cy="275" r="3.6"/><circle class="b" cx="410" cy="300" r="3.6"/><circle class="b" cx="185" cy="268" r="3.6"/><circle class="b" cx="190" cy="318" r="3.6"/><circle class="b" cx="168" cy="325" r="3.6"/><circle class="b" cx="187" cy="400" r="3.6"/><circle class="b" cx="198" cy="404" r="3.6"/><circle class="b" cx="240" cy="410" r="3.6"/><circle class="b" cx="290" cy="350" r="3.6"/><circle class="b" cx="362" cy="420" r="3.6"/><circle class="b" cx="355" cy="365" r="3.6"/><circle class="b" cx="325" cy="310" r="3.6"/><circle class="b" cx="372" cy="340" r="3.6"/><circle class="b" cx="398" cy="385" r="3.6"/>
<circle class="n" cx="103" cy="185" r="3.6"/><circle class="n" cx="98" cy="198" r="3.6"/><circle class="n" cx="80" cy="125" r="3.6"/><circle class="n" cx="130" cy="107" r="3.6"/><circle class="n" cx="290" cy="110" r="3.6"/><circle class="n" cx="360" cy="160" r="3.6"/><circle class="n" cx="303" cy="232" r="3.6"/><circle class="n" cx="430" cy="215" r="3.6"/><circle class="n" cx="405" cy="225" r="3.6"/><circle class="n" cx="440" cy="270" r="3.6"/><circle class="n" cx="465" cy="235" r="3.6"/><circle class="n" cx="178" cy="300" r="3.6"/><circle class="n" cx="155" cy="320" r="3.6"/><circle class="n" cx="215" cy="368" r="3.6"/><circle class="n" cx="238" cy="428" r="3.6"/><circle class="n" cx="300" cy="380" r="3.6"/><circle class="n" cx="330" cy="405" r="3.6"/><circle class="n" cx="337" cy="422" r="3.6"/><circle class="n" cx="395" cy="345" r="3.6"/>
<circle class="r" cx="306" cy="193" r="5.5"/><circle class="r" cx="326" cy="199" r="5.5"/><circle class="r" cx="190" cy="222" r="5.5"/><circle class="r" cx="238" cy="289" r="5.5"/><circle class="r" cx="268" cy="330" r="5.5"/><circle class="r" cx="316" cy="351" r="5.5"/><circle class="r" cx="366" cy="259" r="5.5"/>
<circle class="P" cx="284" cy="262" r="11"/>
</g>
</g>
<text class="cap" x="667" y="447.5">State 12. Ego and her</text>
<text class="cap" x="667" y="463">family goes to the cementery</text>
<text class="cap" x="667" y="477.5">and floral arrangement the graves</text>
</g>

<!-- Panel 13 -->
<g id="state13">
<g transform="translate(835,250) scale(0.33333)">
<g class="eg">
<path d="M312 298 L236 224 Q200 170 164 154 L106 124 L55 92 L16 77 M55 92 L51 60 L85 67 M106 124 L127 91 L110 56 M127 91 L130 54"/>
<path d="M312 298 Q305 250 312 214 L313 135 L309 103 L318 70 L310 30 M318 70 L333 32"/>
<path d="M312 298 L365 230 L418 169 L442 143 L462 118 L480 80 M462 118 L497 95"/>
<path d="M312 298 L349 276 L386 257 L415 240"/>
<path d="M312 298 L411 298 L505 297 L540 303 L563 307 L597 325 M563 307 L571 287 M505 297 L599 295 L629 284 L670 284"/>
<path d="M312 298 L289 311 L260 283 L232 263 M260 283 L223 285"/>
<path d="M312 298 L229 322 L152 341 L115 343 M152 341 L95 359 L55 372"/>
<path d="M312 298 L332 314"/>
<path d="M312 298 L319 355 L324 405 L350 441"/>
<path d="M312 298 Q280 360 286 411"/>
<path d="M312 298 L372 347 L426 391 L464 410 M426 391 L451 427"/>
</g>
<path class="eo" d="M286 411 L247 416 M286 411 L242 438 M286 411 L260 441 M286 411 L283 446 M286 411 L311 443 M286 411 L261 460 M286 411 L280 465 M286 411 L300 461"/>
<circle class="g" cx="236" cy="224" r="4.5"/><circle class="g" cx="106" cy="124" r="4.5"/><circle class="g" cx="16" cy="77" r="4.5"/><circle class="g" cx="85" cy="67" r="4.5"/><circle class="g" cx="110" cy="56" r="4.5"/><circle class="g" cx="130" cy="54" r="4.5"/><circle class="g" cx="312" cy="214" r="4.5"/><circle class="g" cx="309" cy="103" r="4.5"/><circle class="g" cx="310" cy="30" r="4.5"/><circle class="g" cx="333" cy="32" r="4.5"/><circle class="g" cx="365" cy="230" r="4.5"/><circle class="g" cx="442" cy="143" r="4.5"/><circle class="g" cx="480" cy="80" r="4.5"/><circle class="g" cx="497" cy="95" r="4.5"/><circle class="g" cx="349" cy="276" r="4.5"/><circle class="g" cx="415" cy="240" r="4.5"/><circle class="g" cx="411" cy="298" r="4.5"/><circle class="g" cx="540" cy="303" r="4.5"/><circle class="g" cx="597" cy="325" r="4.5"/><circle class="g" cx="571" cy="287" r="4.5"/><circle class="g" cx="599" cy="295" r="4.5"/><circle class="g" cx="670" cy="284" r="4.5"/><circle class="g" cx="289" cy="311" r="4.5"/><circle class="g" cx="232" cy="263" r="4.5"/><circle class="g" cx="223" cy="285" r="4.5"/><circle class="g" cx="229" cy="322" r="4.5"/><circle class="g" cx="115" cy="343" r="4.5"/><circle class="g" cx="55" cy="372" r="4.5"/><circle class="g" cx="332" cy="314" r="4.5"/><circle class="g" cx="319" cy="355" r="4.5"/><circle class="g" cx="350" cy="441" r="4.5"/><circle class="g" cx="372" cy="347" r="4.5"/><circle class="g" cx="464" cy="410" r="4.5"/><circle class="g" cx="451" cy="427" r="4.5"/>
<circle class="b" cx="164" cy="154" r="4.5"/><circle class="b" cx="55" cy="92" r="4.5"/><circle class="b" cx="313" cy="135" r="4.5"/><circle class="b" cx="418" cy="169" r="4.5"/><circle class="b" cx="386" cy="257" r="4.5"/><circle class="b" cx="505" cy="297" r="4.5"/><circle class="b" cx="260" cy="283" r="4.5"/><circle class="b" cx="152" cy="341" r="4.5"/><circle class="b" cx="324" cy="405" r="4.5"/><circle class="b" cx="426" cy="391" r="4.5"/>
<circle class="n" cx="312" cy="298" r="4.5"/><circle class="n" cx="51" cy="60" r="4.5"/><circle class="n" cx="127" cy="91" r="4.5"/><circle class="n" cx="318" cy="70" r="4.5"/><circle class="n" cx="462" cy="118" r="4.5"/><circle class="n" cx="563" cy="307" r="4.5"/><circle class="n" cx="629" cy="284" r="4.5"/><circle class="n" cx="95" cy="359" r="4.5"/>
<circle class="o" cx="247" cy="416" r="4.5"/><circle class="o" cx="242" cy="438" r="4.5"/><circle class="o" cx="260" cy="441" r="4.5"/><circle class="o" cx="283" cy="446" r="4.5"/><circle class="o" cx="311" cy="443" r="4.5"/><circle class="o" cx="261" cy="460" r="4.5"/><circle class="o" cx="280" cy="465" r="4.5"/><circle class="o" cx="300" cy="461" r="4.5"/>
<circle class="r" cx="286" cy="411" r="6.5"/>
</g>
<text class="cap14" x="849" y="446">State 13. The Dead parents</text>
<text class="cap14" x="849" y="463">(in orange) come across</text>
<text class="cap14" x="849" y="478">the sanctuary objetcs</text>
</g>
</svg>
